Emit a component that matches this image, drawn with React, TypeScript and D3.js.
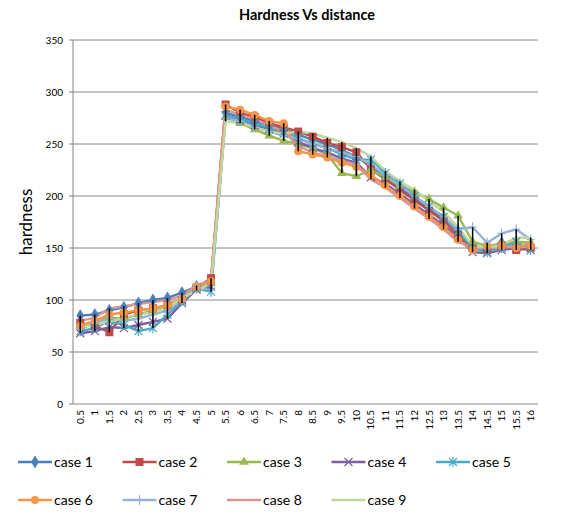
import React from 'react'
import * as d3 from 'd3'

const distances = ['0.5','1','1.5','2','2.5','3','3.5','4','4.5','5','5.5','6','6.5','7','7.5','8',
  '8.5','9','9.5','10','10.5','11','11.5','12','12.5','13','13.5','14','14.5','15','15.5','16']

const case1 = [85,86,90,93,97,100,102,107,113,117, 280,276,272,268,264,259,254,250,244,238,228,218,208,198,188,178,166,152,150,155,153,152]
const case2 = [78,75,69,86,90,92,95,100,112,121, 288,280,276,270,266,262,257,251,247,242,226,216,206,196,186,176,162,150,148,152,148,150]
const case3 = [75,80,83,82,86,90,95,101,110,116, 276,270,264,258,253,250,246,240,222,219,225,218,210,204,197,189,181,156,152,154,156,155]
const case4 = [68,70,74,73,76,79,82,97,110,113, 278,273,268,264,260,252,246,242,236,232,218,212,202,192,182,172,160,146,145,148,150,148]
const case5 = [70,73,80,76,70,73,86,99,111,108, 277,274,270,265,262,256,250,246,240,235,235,222,212,200,190,180,166,150,146,150,156,148]
const case6 = [75,80,86,88,90,92,95,101,113,118, 286,283,278,272,270,243,240,237,232,228,220,210,200,190,180,170,158,148,152,152,150,152]
const case7 = [72,78,82,80,82,86,90,100,112,110, 275,272,266,262,258,255,250,246,242,238,230,220,210,200,190,180,168,170,155,164,168,158]
const case8 = [80,83,92,94,96,98,100,104,114,119, 283,278,274,268,262,248,242,238,234,230,216,208,198,188,178,168,156,150,150,150,152,154]
const case9 = [74,76,79,83,86,88,92,102,109,116, 272,270,266,262,260,262,260,256,252,246,238,224,214,206,195,185,170,152,150,153,160,160]

const seriesNames = ['case 1','case 2','case 3','case 4','case 5','case 6','case 7','case 8','case 9']
const seriesValues = [case1, case2, case3, case4, case5, case6, case7, case8, case9]
const colors = ['#4A7EBB','#BE4B48','#98B954','#7D60A0','#46AAC5','#F79646','#95B3D7','#D99694','#C3D69B']
const markers = ['diamond','square','triangle','x','star','circle','plus','none','none']
const yTicks = [0,50,100,150,200,250,300,350]

const W = 586, H = 514
const left = 73, right = 538, top = 40, bottom = 404
const font = 'Lato, "Open Sans", sans-serif'

function Marker({ type, x, y, color }: { type: string, x: number, y: number, color: string }) {
  if (type === 'diamond') {
    const s = d3.symbol(d3.symbolDiamond, 40)()
    return <path d={s || ''} transform={`translate(${x},${y})`} fill={color} stroke={color} strokeWidth={0.8} />
  }
  if (type === 'square') return <rect x={x - 4} y={y - 4} width={8} height={8} fill={color} />
  if (type === 'triangle') {
    const s = d3.symbol(d3.symbolTriangle, 40)()
    return <path d={s || ''} transform={`translate(${x},${y})`} fill={color} />
  }
  if (type === 'circle') return <circle cx={x} cy={y} r={4} fill={color} />
  if (type === 'x') return <path d={`M${x-4},${y-4}L${x+4},${y+4}M${x-4},${y+4}L${x+4},${y-4}`} stroke={color} strokeWidth={1.2} />
  if (type === 'star') return <path d={`M${x-4},${y-4}L${x+4},${y+4}M${x-4},${y+4}L${x+4},${y-4}M${x},${y-5}L${x},${y+5}`} stroke={color} strokeWidth={1.2} />
  if (type === 'plus') return <path d={`M${x-4},${y}L${x+4},${y}M${x},${y-5}L${x},${y+5}`} stroke={color} strokeWidth={1.2} />
  return null
}

export default function App() {
  const x = d3.scaleBand().domain(distances).range([left, right])
  const y = d3.scaleLinear().domain([0, 350]).range([bottom, top])
  const cx = (c: string) => (x(c) ?? 0) + x.bandwidth() / 2

  const line = d3.line<number>().x((_, i) => cx(distances[i])).y(d => y(d))

  // high-low lines across all cases at each distance
  const hiLo = distances.map((c, i) => {
    const vals = seriesValues.map(s => s[i])
    return { c, lo: d3.min(vals) ?? 0, hi: d3.max(vals) ?? 0 }
  })

  return (
    <svg width={W} height={H} style={{ position: 'absolute', left: 0, top: 0, background: '#fff' }} fontFamily={font}>
      <text x={307} y={20} textAnchor="middle" fontSize={14.5} fontWeight="bold" fill="#000">Hardness Vs distance</text>
      <text transform={`translate(32,${(top + bottom) / 2}) rotate(-90)`} textAnchor="middle" fontSize={17} fill="#000">hardness</text>

      {yTicks.map(t => (
        <g key={t}>
          <line x1={left} x2={right} y1={y(t)} y2={y(t)} stroke="#868686" strokeWidth={1} />
          <line x1={left - 4} x2={left} y1={y(t)} y2={y(t)} stroke="#868686" />
          <text x={left - 10} y={y(t)} dy="0.35em" textAnchor="end" fontSize={10} fill="#000">{t}</text>
        </g>
      ))}
      <line x1={left} x2={left} y1={top} y2={bottom} stroke="#868686" />

      {distances.map(c => (
        <text key={c} transform={`translate(${cx(c)},${bottom + 6}) rotate(-90)`} textAnchor="end" dy="0.35em" fontSize={10} fill="#000">{c}</text>
      ))}

      {seriesValues.map((s, k) => (
        <path key={k} d={line(s) || ''} fill="none" stroke={colors[k]} strokeWidth={2.4} strokeLinejoin="round" />
      ))}
      {seriesValues.map((s, k) => (
        <g key={'m' + k}>
          {s.map((v, i) => <Marker key={i} type={markers[k]} x={cx(distances[i])} y={y(v)} color={colors[k]} />)}
        </g>
      ))}
      {hiLo.map(d => (
        <line key={d.c} x1={cx(d.c)} x2={cx(d.c)} y1={y(d.hi)} y2={y(d.lo)} stroke="#000" strokeWidth={1.5} />
      ))}

      {seriesNames.map((n, k) => {
        const lx = 18 + (k % 5) * 104.5
        const ly = k < 5 ? 462 : 500
        return (
          <g key={n}>
            <line x1={lx} x2={lx + 34} y1={ly} y2={ly} stroke={colors[k]} strokeWidth={2.4} />
            <Marker type={markers[k]} x={lx + 17} y={ly} color={colors[k]} />
            <text x={lx + 36} y={ly} dy="0.35em" fontSize={14} fill="#000">{n}</text>
          </g>
        )
      })}
    </svg>
  )
}
